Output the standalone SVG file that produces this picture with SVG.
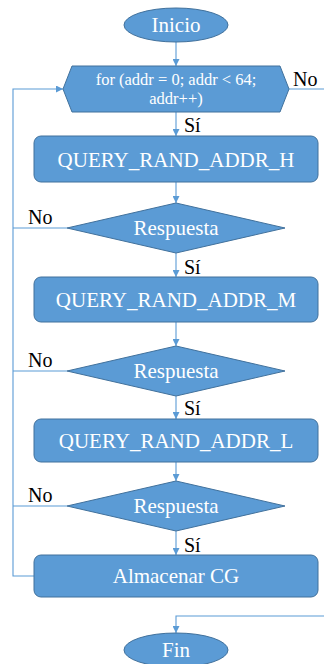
<svg xmlns="http://www.w3.org/2000/svg" width="324" height="664" viewBox="0 0 324 664">
  <style>
    .shape { fill: #5b9bd5; stroke: #41719c; stroke-width: 1; }
    .lbl { font-family: 'Liberation Serif', 'Times New Roman', serif; fill: #ffffff; text-anchor: middle; font-size: 21px; }
    .small { font-size: 16.5px; }
    .tag { font-family: 'Liberation Serif', 'Times New Roman', serif; fill: #000000; font-size: 20px; }
    .wire { fill: none; stroke: #5b9bd5; stroke-width: 1.1; }
  </style>
  <defs>
    <marker id="arrow" viewBox="0 0 8 8" refX="8" refY="4" markerWidth="7" markerHeight="7" markerUnits="userSpaceOnUse" orient="auto">
      <path d="M0,0 L8,4 L0,8 z" fill="#5b9bd5"/>
    </marker>
  </defs>
  <rect width="324" height="664" fill="#ffffff"/>

  <!-- connectors and branch labels -->
  <g id="connectors">
    <path class="wire" d="M176,42 V66" marker-end="url(#arrow)"/>
    <path class="wire" d="M176,112 V136" marker-end="url(#arrow)"/>
    <path class="wire" d="M176,182 V203" marker-end="url(#arrow)"/>
    <path class="wire" d="M176,253 V277" marker-end="url(#arrow)"/>
    <path class="wire" d="M176,322 V346" marker-end="url(#arrow)"/>
    <path class="wire" d="M176,396 V419" marker-end="url(#arrow)"/>
    <path class="wire" d="M176,462 V481" marker-end="url(#arrow)"/>
    <path class="wire" d="M176,531 V555" marker-end="url(#arrow)"/>
    <!-- loop back to the for header -->
    <path class="wire" d="M34,576 H13 V89 H63" marker-end="url(#arrow)"/>
    <path class="wire" d="M67,228 H13"/>
    <path class="wire" d="M67,371 H13"/>
    <path class="wire" d="M67,506 H13"/>
    <!-- loop exit -->
    <path class="wire" d="M289,89 H324"/>
    <path class="wire" d="M324,616 H176 V633" marker-end="url(#arrow)"/>
    <text class="tag" x="293" y="86">No</text>
    <text class="tag" x="28" y="224">No</text>
    <text class="tag" x="28" y="367">No</text>
    <text class="tag" x="28" y="502">No</text>
    <text class="tag" x="184" y="132">Sí</text>
    <text class="tag" x="184" y="274">Sí</text>
    <text class="tag" x="184" y="415">Sí</text>
    <text class="tag" x="184" y="552">Sí</text>
  </g>

  <g id="inicio">
    <ellipse class="shape" cx="176" cy="25" rx="52" ry="17"/>
    <text class="lbl" x="176" y="32">Inicio</text>
  </g>

  <g id="for-loop">
    <polygon class="shape" points="72,66 280,66 289,89 280,112 72,112 63,89"/>
    <text class="lbl small" x="176" y="84.5">for (addr = 0; addr &lt; 64;</text>
    <text class="lbl small" x="176" y="104">addr++)</text>
  </g>

  <g id="query-h">
    <rect class="shape" x="34" y="136" width="284" height="46" rx="7"/>
    <text class="lbl" x="176" y="167">QUERY_RAND_ADDR_H</text>
  </g>

  <g id="respuesta-h">
    <polygon class="shape" points="176,203 285,228 176,253 67,228"/>
    <text class="lbl" x="176" y="235">Respuesta</text>
  </g>

  <g id="query-m">
    <rect class="shape" x="34" y="277" width="284" height="45" rx="7"/>
    <text class="lbl" x="176" y="307">QUERY_RAND_ADDR_M</text>
  </g>

  <g id="respuesta-m">
    <polygon class="shape" points="176,346 285,371 176,396 67,371"/>
    <text class="lbl" x="176" y="378">Respuesta</text>
  </g>

  <g id="query-l">
    <rect class="shape" x="34" y="419" width="284" height="43" rx="7"/>
    <text class="lbl" x="176" y="448">QUERY_RAND_ADDR_L</text>
  </g>

  <g id="respuesta-l">
    <polygon class="shape" points="176,481 285,506 176,531 67,506"/>
    <text class="lbl" x="176" y="513">Respuesta</text>
  </g>

  <g id="almacenar">
    <rect class="shape" x="34" y="555" width="284" height="42" rx="7"/>
    <text class="lbl" x="176" y="583">Almacenar CG</text>
  </g>

  <g id="fin">
    <ellipse class="shape" cx="176" cy="650" rx="52" ry="17"/>
    <text class="lbl" x="176" y="657">Fin</text>
  </g>
</svg>
